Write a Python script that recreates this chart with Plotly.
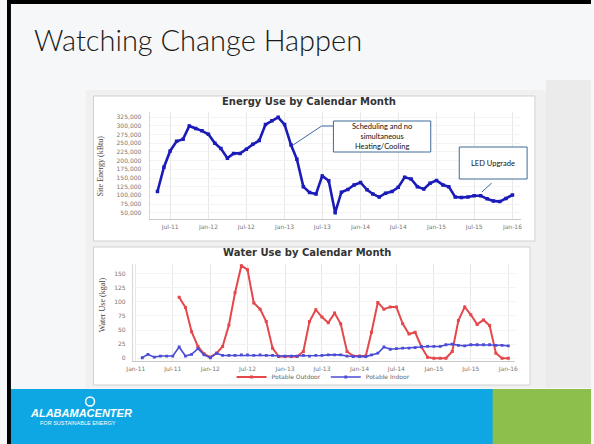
import plotly.graph_objects as go
import pandas as pd

W, H = 594, 444
def px(x): return x / W
def py(y): return 1 - y / H

# ---------------- data ----------------
energy_months = pd.date_range('2011-05-01', periods=57, freq='MS')
energy_kbtu = [111000, 181000, 228000, 256000, 262000, 300000, 293000, 286000, 276000, 250000,
               235000, 207000, 221000, 221000, 233000, 247000, 258000, 304000, 315000, 325000,
               304000, 245000, 204000, 125000, 108000, 104000, 156000, 142000, 50000, 109000,
               117000, 130000, 137000, 116000, 104000, 95000, 106000, 111000, 123000, 152000,
               147000, 125000, 118000, 135000, 143000, 130000, 125000, 95000, 94000, 95000,
               99000, 99000, 90000, 84000, 82000, 91000, 101000]

outdoor_months = pd.date_range('2011-08-01', periods=54, freq='MS')
outdoor_kgal = [108, 90, 47, 21, 8, 2, 9, 21, 59, 116, 164, 157, 98, 87, 65, 18,
                3, 3, 3, 3, 12, 65, 86, 73, 63, 80, 61, 12,
                4, 4, 4, 46, 99, 87, 91, 91, 61, 43, 46, 20,
                2, 0, 0, 0, 12, 67, 91, 77, 60, 68, 58, 9,
                0, 0]

indoor_months = pd.date_range('2011-02-01', periods=60, freq='MS')
indoor_kgal = [1, 7, 2, 4, 4, 4, 20, 4, 7, 17,
               6, 1, 9, 5, 5, 5, 6, 6, 5, 6, 5, 5,
               4, 4, 4, 4, 5, 4, 5, 5, 6, 6, 6, 4,
               3, 3, 3, 6, 9, 20, 16, 17, 18, 18, 19, 21,
               21, 21, 21, 24, 25, 23, 22, 24, 24, 24, 24, 23,
               23, 22]

energy_yticks = [50000, 75000, 100000, 125000, 150000, 175000, 200000, 225000,
                 250000, 275000, 300000, 325000]
water_yticks = [0, 25, 50, 75, 100, 125, 150]

# ---------------- figure ----------------
fig = go.Figure()

fig.add_trace(go.Scatter(
    x=energy_months, y=energy_kbtu, name='Electric - Grid', mode='lines+markers',
    line=dict(color='#1b1bb8', width=2.6), marker=dict(symbol='square', size=3.5, color='#1b1bb8'),
    xaxis='x', yaxis='y', legend='legend'))

fig.add_trace(go.Scatter(
    x=outdoor_months, y=outdoor_kgal, name='Potable Outdoor', mode='lines+markers',
    line=dict(color='#e4484b', width=2), marker=dict(symbol='square', size=3, color='#e4484b'),
    xaxis='x2', yaxis='y2', legend='legend2'))

fig.add_trace(go.Scatter(
    x=indoor_months, y=indoor_kgal, name='Potable Indoor', mode='lines+markers',
    line=dict(color='#4b4bd6', width=1.6), marker=dict(symbol='square', size=2.8, color='#4b4bd6'),
    xaxis='x2', yaxis='y2', legend='legend2'))

chart_font = 'DejaVu Sans'
tick_font = dict(family=chart_font, size=6, color='#777777')

shapes = []
# slide background pieces
shapes.append(dict(type='rect', xref='paper', yref='paper', x0=px(548), x1=1, y0=py(388), y1=py(80),
                   fillcolor='#ebebeb', line=dict(width=0), layer='below'))
shapes.append(dict(type='rect', xref='paper', yref='paper', x0=px(80), x1=px(548), y0=py(388), y1=py(90),
                   fillcolor='#f0f0f0', line=dict(width=0), layer='below'))
# chart boxes
shapes.append(dict(type='rect', xref='paper', yref='paper', x0=px(88), x1=px(537), y0=py(241), y1=py(96),
                   fillcolor='white', line=dict(color='#d0d0d0', width=1), layer='below'))
shapes.append(dict(type='rect', xref='paper', yref='paper', x0=px(88), x1=px(532), y0=py(385), y1=py(247),
                   fillcolor='white', line=dict(color='#d0d0d0', width=1), layer='below'))
# footer
shapes.append(dict(type='rect', xref='paper', yref='paper', x0=0, x1=1, y0=0, y1=py(389),
                   fillcolor='#0ea7e3', line=dict(width=0)))
shapes.append(dict(type='rect', xref='paper', yref='paper', x0=px(494), x1=1, y0=0, y1=py(389),
                   fillcolor='#8cbf4b', line=dict(width=0)))
# black frame top/left
shapes.append(dict(type='rect', xref='paper', yref='paper', x0=0, x1=1, y0=py(4), y1=1,
                   fillcolor='black', line=dict(width=0)))
shapes.append(dict(type='rect', xref='paper', yref='paper', x0=0, x1=px(4), y0=0, y1=1,
                   fillcolor='black', line=dict(width=0)))
# callout boxes
box_col = '#3f6a99'
shapes.append(dict(type='rect', xref='paper', yref='paper', x0=px(332), x1=px(431), y0=py(152), y1=py(121),
                   fillcolor='white', line=dict(color=box_col, width=1)))
shapes.append(dict(type='path', xref='paper', yref='paper',
                   path=f'M {px(332)},{py(126)} L {px(320)},{py(126)} L {px(291)},{py(145)}',
                   line=dict(color=box_col, width=1)))
shapes.append(dict(type='rect', xref='paper', yref='paper', x0=px(460), x1=px(529), y0=py(179), y1=py(147),
                   fillcolor='white', line=dict(color=box_col, width=1)))
shapes.append(dict(type='path', xref='paper', yref='paper',
                   path=f'M {px(493)},{py(183)} L {px(483)},{py(192)}',
                   line=dict(color=box_col, width=1)))
# logo sun
shapes.append(dict(type='circle', xref='paper', yref='paper', x0=px(80), x1=px(89), y0=py(406), y1=py(397),
                   fillcolor='rgba(0,0,0,0)', line=dict(color='white', width=1.5)))

annotations = [
    dict(text='Watching Change Happen', x=px(25), y=py(40), xref='paper', yref='paper',
         xanchor='left', yanchor='middle', showarrow=False,
         font=dict(family='Lato', size=29, color='#1a1a1a', weight=300)),
    dict(text='<b>Energy Use by Calendar Month</b>', x=px(307), y=py(101), xref='paper', yref='paper',
         xanchor='center', yanchor='middle', showarrow=False,
         font=dict(family=chart_font, size=10, color='#333333')),
    dict(text='<b>Water Use by Calendar Month</b>', x=px(305), y=py(253), xref='paper', yref='paper',
         xanchor='center', yanchor='middle', showarrow=False,
         font=dict(family=chart_font, size=10, color='#333333')),
    dict(text='Site Energy (kBtu)', x=px(96), y=py(166), xref='paper', yref='paper', textangle=-90,
         xanchor='center', yanchor='middle', showarrow=False,
         font=dict(family='Liberation Serif', size=8, color='#444444')),
    dict(text='Water Use (kgal)', x=px(97), y=py(305), xref='paper', yref='paper', textangle=-90,
         xanchor='center', yanchor='middle', showarrow=False,
         font=dict(family='Liberation Serif', size=8, color='#444444')),
    dict(text='Scheduling and no<br>simultaneous<br>Heating/Cooling', x=px(381.5), y=py(136.5),
         xref='paper', yref='paper', xanchor='center', yanchor='middle', showarrow=False,
         font=dict(family='Lato', size=7.5, color='#111111')),
    dict(text='LED Upgrade', x=px(494.5), y=py(163), xref='paper', yref='paper',
         xanchor='center', yanchor='middle', showarrow=False,
         font=dict(family='Lato', size=7.5, color='#111111')),
    dict(text='<b><i>ALABAMACENTER</i></b>', x=px(21), y=py(413), xref='paper', yref='paper',
         xanchor='left', yanchor='middle', showarrow=False,
         font=dict(family='Liberation Sans', size=11, color='white')),
    dict(text='FOR SUSTAINABLE ENERGY', x=px(32), y=py(423), xref='paper', yref='paper',
         xanchor='left', yanchor='middle', showarrow=False,
         font=dict(family='Liberation Sans', size=5.5, color='white')),
]

fig.update_layout(
    width=W, height=H, margin=dict(l=0, r=0, t=0, b=0),
    paper_bgcolor='#f6f7f8', plot_bgcolor='rgba(0,0,0,0)',
    shapes=shapes, annotations=annotations,
    xaxis=dict(domain=[px(145), px(523)], anchor='y', type='date',
               range=['2011-03-24', '2016-02-12'], tick0='2011-01-01', dtick='M6',
               tickformat='%b-%y', tickfont=tick_font, showgrid=True, gridcolor='#e8e8e8',
               showline=True, linecolor='#c8c8c8', linewidth=1, ticks='', zeroline=False,
               ticklabelstandoff=2),
    yaxis=dict(domain=[py(219), py(112)], anchor='x', range=[31800, 340300],
               tickvals=energy_yticks, tickformat=',d', tickfont=tick_font,
               showgrid=True, gridcolor='#f3f3f3', showline=True, linecolor='#d8d8d8',
               zeroline=False, ticks='', ticklabelstandoff=6),
    xaxis2=dict(domain=[px(128), px(517)], anchor='y2', type='date',
                range=['2010-12-17', '2016-02-04'], tick0='2011-01-01', dtick='M6',
                tickformat='%b-%y', tickfont=tick_font, showgrid=True, gridcolor='#e8e8e8',
                showline=True, linecolor='#c8c8c8', linewidth=1, ticks='', zeroline=False,
                ticklabelstandoff=2),
    yaxis2=dict(domain=[py(361), py(264)], anchor='x2', range=[-4.8, 167],
                tickvals=water_yticks, tickfont=tick_font,
                showgrid=True, gridcolor='#f3f3f3', showline=True, linecolor='#d8d8d8',
                zeroline=False, ticks='', ticklabelstandoff=5),
    legend=dict(orientation='h', x=px(306), y=py(235), xanchor='center', yanchor='middle',
                bgcolor='rgba(0,0,0,0)', font=dict(family=chart_font, size=6, color='#666666'),
                itemwidth=30, tracegroupgap=0),
    legend2=dict(orientation='h', x=px(322), y=py(377), xanchor='center', yanchor='middle',
                 bgcolor='rgba(0,0,0,0)', font=dict(family=chart_font, size=6, color='#666666'),
                 itemwidth=30, tracegroupgap=0),
)

fig.write_html('out.html', config={'displayModeBar': False},
               post_script="document.body.style.margin='0';document.body.style.overflow='hidden';")
